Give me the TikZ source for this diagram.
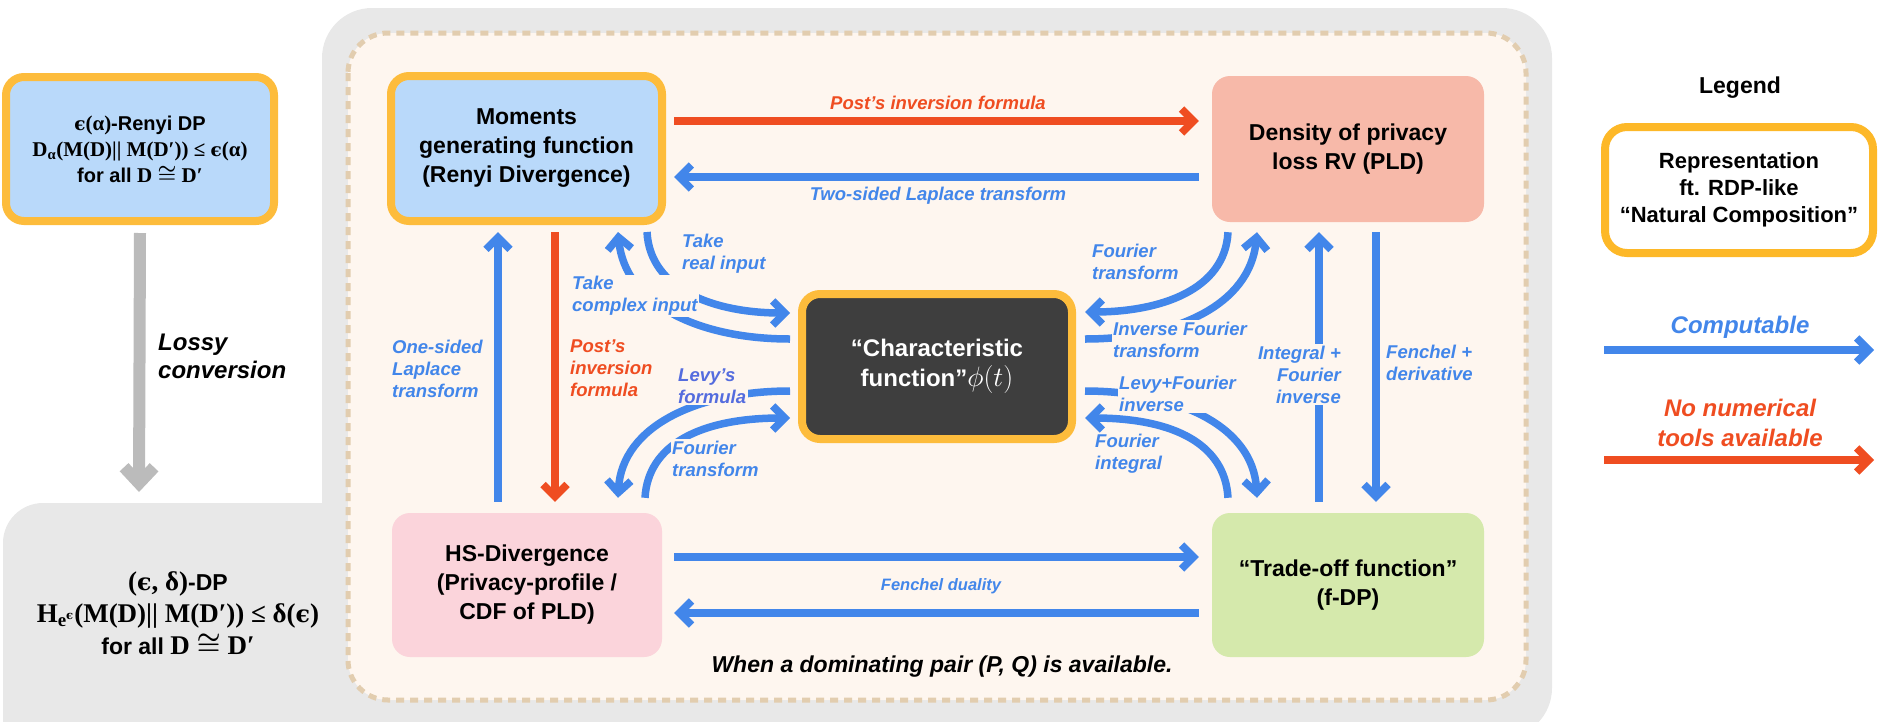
\RequirePackage{fix-cm}
\documentclass[tikz,border=0pt]{standalone}
\usepackage{amsmath}
\usepackage[no-math]{fontspec}
\setmainfont{Liberation Sans}
\newfontfamily\tms{Liberation Serif}
\newfontfamily\hb{Liberation Sans Bold}
\newfontfamily\dvs[Scale=0.88]{DejaVu Serif}
\usetikzlibrary{arrows.meta}
\definecolor{bluec}{RGB}{66,134,234}
\definecolor{levyc}{RGB}{84,108,222}
\definecolor{redc}{RGB}{239,77,33}
\definecolor{orangec}{RGB}{253,188,60}
\definecolor{legorange}{RGB}{253,184,40}
\definecolor{lightbluec}{RGB}{185,217,250}
\definecolor{pldc}{RGB}{247,185,169}
\definecolor{hsc}{RGB}{251,212,219}
\definecolor{toc}{RGB}{213,233,172}
\definecolor{chrc}{RGB}{62,62,62}
\definecolor{greyc}{RGB}{232,232,232}
\definecolor{creamc}{RGB}{254,246,239}
\definecolor{dashc}{RGB}{226,205,175}
\definecolor{arrowgrey}{RGB}{187,187,187}
\newcommand\fsz[2]{\fontsize{#1}{#2}\selectfont}
\newcommand\eps{{\dvs\bfseries ϵ}}
\newcommand\cng{{\boldmath$\cong$}}
\begin{document}
\begin{tikzpicture}[x=1pt,y=-1pt,
  bluearr/.style={draw=bluec, line width=7.5pt, -{Straight Barb[length=12pt,width=24pt]}},
  redarr/.style={draw=redc, line width=7.5pt, -{Straight Barb[length=12pt,width=24pt]}},
  box/.style={rounded corners=18pt, align=center, inner sep=0pt, font=\bfseries\fsz{23}{29}},
  lbl/.style={font=\bfseries\itshape\fsz{18.5}{22}, text=bluec, align=left, fill=creamc, inner sep=1.5pt},
  plainlbl/.style={font=\bfseries\itshape\fsz{18.5}{22}, inner sep=0pt}
]
\useasboundingbox (0,0) rectangle (1879,721);
% backgrounds
\fill[greyc, rounded corners=50pt] (322,8) rectangle (1552,738);
\fill[greyc, rounded corners=40pt] (3,503) rectangle (420,780);
\draw[dashc, fill=creamc, line width=5pt, dash pattern=on 8pt off 6pt, rounded corners=40pt] (348,33) rectangle (1526,700);

% left column
\node[box, draw=orangec, line width=8pt, fill=lightbluec, minimum width=268pt, minimum height=144pt, font=\hb\fsz{20}{26}] (rdp) at (140,149)
  {{\tms\bfseries\fsz{21}{26}\eps(α)}{\hb -Renyi DP}\\
   {\tms\bfseries\fsz{21}{26}D\textsubscript{α}(M(D)|| M(D′)) ≤ \eps(α)}\\
   {\hb for all} {\tms\bfseries\fsz{21}{26}D \cng\ D′}};
\node[align=center, inner sep=0pt, font=\hb\fsz{23}{32}] (dp) at (178,613)
  {{\tms\bfseries\fsz{27}{32}(\eps, δ)}{\hb -DP}\\
   {\tms\bfseries\fsz{27}{32}H\textsubscript{e\textsuperscript{\eps}}(M(D)|| M(D′)) ≤ δ(\eps)}\\
   {\hb for all} {\tms\bfseries\fsz{27}{32}D \cng\ D′}};
\coordinate (lossyend) at (139,492);
\draw[draw=arrowgrey, line width=12pt, -{Straight Barb[length=16pt,width=30pt]}] ([yshift=-8pt]rdp.south) -- (lossyend);
\node[anchor=west, align=left, font=\bfseries\itshape\fsz{24}{28}, inner sep=0pt] (lossy) at (158,356) {Lossy\\conversion};

% main nodes
\node[box, draw=orangec, line width=8pt, fill=lightbluec, minimum width=271pt, minimum height=145pt] (mgf) at (526.5,148.5)
  {Moments\\generating function\\(Renyi Divergence)};
\node[box, fill=pldc, minimum width=272pt, minimum height=146pt] (pld) at (1348,149)
  {Density of privacy\\loss RV (PLD)};
\node[box, fill=hsc, minimum width=270pt, minimum height=144pt] (hs) at (527,585)
  {HS-Divergence\\(Privacy-profile /\\CDF of PLD)};
\node[box, fill=toc, minimum width=272pt, minimum height=144pt] (tof) at (1348,585)
  {“Trade-off function”\\(f-DP)};
\node[box, draw=orangec, line width=8pt, fill=chrc, text=white, minimum width=270pt, minimum height=145pt, font=\bfseries\fsz{24}{30}] (chr) at (937,366.5)
  {“Characteristic\\function”{\fsz{28}{30}$\phi(t)$}};

% straight connectors
\draw[redarr] ([xshift=8pt,yshift=27.5pt]mgf.east) -- ([xshift=-13pt,yshift=28pt]pld.west);
\draw[bluearr] ([xshift=-13pt,yshift=-28pt]pld.west) -- ([xshift=8pt,yshift=-28.5pt]mgf.east);
\draw[bluearr] ([xshift=12pt,yshift=28pt]hs.east) -- ([xshift=-13pt,yshift=28pt]tof.west);
\draw[bluearr] ([xshift=-13pt,yshift=-28pt]tof.west) -- ([xshift=12pt,yshift=-28pt]hs.east);
\draw[bluearr] ([xshift=-29pt,yshift=11pt]hs.north) -- ([xshift=-28.5pt,yshift=-7pt]mgf.south);
\draw[redarr] ([xshift=28.5pt,yshift=-7pt]mgf.south) -- ([xshift=28pt,yshift=11pt]hs.north);
\draw[bluearr] ([xshift=-29pt,yshift=11pt]tof.north) -- ([xshift=-29pt,yshift=-10pt]pld.south);
\draw[bluearr] ([xshift=28pt,yshift=-10pt]pld.south) -- ([xshift=28pt,yshift=11pt]tof.north);

% curved connectors
\draw[bluearr] ([xshift=120.5pt,yshift=-7pt]mgf.south) .. controls +(3,58) and +(-75,0) .. ([xshift=-8pt,yshift=53.5pt]chr.west);
\draw[bluearr] ([xshift=-8pt,yshift=27.5pt]chr.west) .. controls +(-90,0) and +(7,73) .. ([xshift=91.5pt,yshift=-7pt]mgf.south);
\draw[bluearr] ([xshift=-8pt,yshift=-24.5pt]chr.west) .. controls +(-90,0) and +(4,-73) .. ([xshift=91pt,yshift=15pt]hs.north);
\draw[bluearr] ([xshift=118pt,yshift=15pt]hs.north) .. controls +(3,-53) and +(-90,0) .. ([xshift=-8pt,yshift=-51.5pt]chr.west);
\draw[bluearr] ([xshift=-120pt,yshift=-10pt]pld.south) .. controls +(-3,58) and +(75,0) .. ([xshift=9pt,yshift=54.5pt]chr.east);
\draw[bluearr] ([xshift=9pt,yshift=27.5pt]chr.east) .. controls +(90,0) and +(-7,73) .. ([xshift=-91pt,yshift=-10pt]pld.south);
\draw[bluearr] ([xshift=9pt,yshift=-24.5pt]chr.east) .. controls +(90,0) and +(-4,-73) .. ([xshift=-91pt,yshift=15pt]tof.north);
\draw[bluearr] ([xshift=-120pt,yshift=15pt]tof.north) .. controls +(-3,-53) and +(90,0) .. ([xshift=9pt,yshift=-51.5pt]chr.east);

% labels
\node[lbl, anchor=west] (lA) at (680.5,253.5) {Take\\real input};
\node[lbl, anchor=west] (lB) at (570.5,296) {Take\\complex input};
\node[lbl, anchor=west, text=levyc] (lC) at (676.5,386) {Levy’s\\formula};
\node[lbl, anchor=west] (lD) at (670.5,458.5) {Fourier\\transform};
\node[lbl, anchor=west] (lE) at (1090.5,262) {Fourier\\transform};
\node[lbl, anchor=west] (lF) at (1111.5,339.5) {Inverse Fourier\\transform};
\node[lbl, anchor=west] (lG) at (1117.5,394) {Levy+Fourier\\inverse};
\node[lbl, anchor=west] (lH) at (1093.5,454) {Fourier\\integral};
\node[lbl, anchor=east, align=right] (lI) at (1342.5,374.5) {Integral +\\Fourier\\inverse};
\node[lbl, anchor=west] (lJ) at (1384.5,363) {Fenchel +\\derivative};
\node[lbl, anchor=west] (lK) at (390.5,368.5) {One-sided\\Laplace\\transform};
\node[lbl, anchor=west, text=redc] (lL) at (568.5,368.5) {Post’s\\inversion\\formula};
\node[plainlbl, text=redc] (lM) at (938,103) {Post’s inversion formula};
\node[plainlbl, text=bluec] (lN) at (938,196) {Two-sided Laplace transform};
\node[plainlbl, text=bluec, font=\bfseries\itshape\fsz{16.5}{20}] (lO) at (941,586) {Fenchel duality};
\node[plainlbl, font=\bfseries\itshape\fsz{23}{28}] (lP) at (942,667) {When a dominating pair (P, Q) is available.};

% legend
\node[font=\bfseries\fsz{23}{28}, inner sep=0pt] (legt) at (1740,88) {Legend};
\node[box, draw=legorange, line width=8pt, fill=white, minimum width=268pt, minimum height=126pt, rounded corners=22pt, font=\bfseries\fsz{22}{27}] (leg) at (1739,190)
  {Representation\\ft. RDP-like\\“Natural Composition”};
\node[font=\bfseries\itshape\fsz{24}{29}, text=bluec, inner sep=0pt] (lcomp) at (1740,327) {Computable};
\coordinate (cb1) at (1604,350);
\coordinate (cb2) at (1874,350);
\draw[bluearr] (cb1) -- (cb2);
\node[font=\bfseries\itshape\fsz{24}{30}, text=redc, align=center, inner sep=0pt] (lnum) at (1740,423) {No numerical\\tools available};
\coordinate (cr1) at (1604,460);
\coordinate (cr2) at (1874,460);
\draw[redarr] (cr1) -- (cr2);
\end{tikzpicture}
\end{document}
